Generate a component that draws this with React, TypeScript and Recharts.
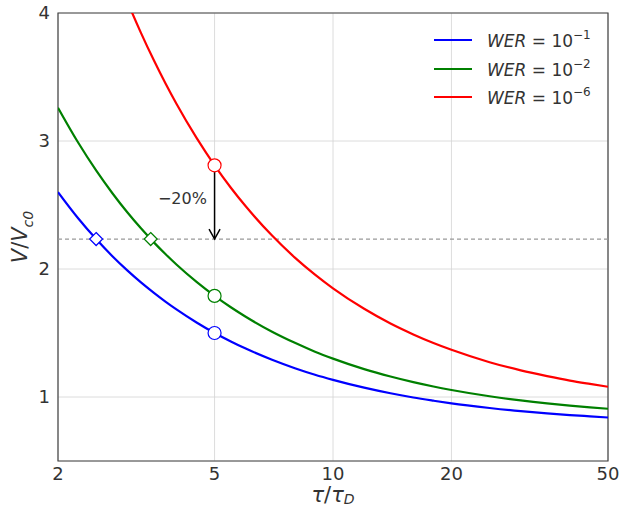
import React from "react";
import {
  ComposedChart,
  Line,
  XAxis,
  YAxis,
  CartesianGrid,
  ReferenceLine,
  ReferenceDot,
  ReferenceArea,
} from "recharts";

// tau / tau_D sample points
const tauValues = [2, 2.25, 2.5, 2.75, 3, 3.25, 3.5, 3.75, 4, 4.5, 5, 5.5, 6, 7, 8, 9, 10, 12, 14, 16, 18, 20, 25, 30, 35, 40, 45, 50];

const werBlue = [2.601, 2.397, 2.234, 2.1, 1.989, 1.895, 1.815, 1.745, 1.684, 1.582, 1.5, 1.434, 1.378, 1.291, 1.225, 1.174, 1.134, 1.073, 1.029, 0.996, 0.971, 0.95, 0.914, 0.889, 0.872, 0.859, 0.849, 0.84];
const werGreen = [3.26, 2.988, 2.77, 2.592, 2.443, 2.318, 2.21, 2.117, 2.035, 1.899, 1.79, 1.701, 1.627, 1.51, 1.423, 1.354, 1.3, 1.218, 1.16, 1.116, 1.082, 1.055, 1.006, 0.973, 0.95, 0.933, 0.919, 0.908];
const werRed = [null, null, null, 4.383, 4.091, 3.845, 3.634, 3.451, 3.291, 3.024, 2.81, 2.635, 2.49, 2.261, 2.089, 1.956, 1.849, 1.689, 1.574, 1.489, 1.422, 1.369, 1.272, 1.208, 1.163, 1.128, 1.102, 1.08];

const xTicks = [2, 5, 10, 20, 50];
const yTicks = [1, 2, 3, 4];

const targetLevel = 2.234;
const circlePoints = [
  { x: 5, y: 1.5, color: "#0000ff" },
  { x: 5, y: 1.79, color: "#008000" },
  { x: 5, y: 2.81, color: "#ff0000" },
];
const diamondPoints = [
  { x: 2.5, y: targetLevel, color: "#0000ff" },
  { x: 3.44, y: targetLevel, color: "#008000" },
];

const legendItems = [
  { exp: "−1", color: "#0000ff" },
  { exp: "−2", color: "#008000" },
  { exp: "−6", color: "#ff0000" },
];

const data = tauValues.map((t, i) => ({
  x: t,
  blue: werBlue[i],
  green: werGreen[i],
  red: werRed[i],
}));

const font = "DejaVu Sans, sans-serif";

const Diamond = (color: string) => (props: any) => {
  const { cx, cy } = props;
  const s = 6.5;
  return (
    <path
      d={`M${cx},${cy - s} L${cx + s},${cy} L${cx},${cy + s} L${cx - s},${cy} Z`}
      fill="#fff"
      stroke={color}
      strokeWidth={1.2}
    />
  );
};

const ArrowHead = (props: any) => {
  const { cx, cy } = props;
  return (
    <path
      d={`M${cx - 5.5},${cy - 10} L${cx},${cy} L${cx + 5.5},${cy - 10}`}
      fill="none"
      stroke="#000"
      strokeWidth={1.5}
    />
  );
};

const PctLabel = (props: any) => {
  const { cx, cy } = props;
  return (
    <text x={cx - 6} y={cy} textAnchor="end" dominantBaseline="middle" fontSize={16} fill="#333" fontFamily={font}>
      −20%
    </text>
  );
};

export default function App() {
  return (
    <div style={{ position: "absolute", left: 0, top: 0, width: 635, height: 507, background: "#fff", fontFamily: font }}>
      <ComposedChart width={635} height={507} data={data} margin={{ top: 13, right: 27, left: 0, bottom: 0 }}>
        <CartesianGrid stroke="#d3d3d3" strokeWidth={0.8} />
        <XAxis
          dataKey="x"
          type="number"
          scale="log"
          domain={[2, 50]}
          ticks={xTicks}
          allowDataOverflow
          height={46}
          tickLine={false}
          axisLine={false}
          tickSize={0}
          tickMargin={6}
          tick={{ fontSize: 18, fill: "#333", fontFamily: font }}
        />
        <YAxis
          type="number"
          domain={[0.5, 4]}
          ticks={yTicks}
          allowDataOverflow
          width={58}
          tickLine={false}
          axisLine={false}
          tickSize={0}
          tickMargin={8}
          tick={{ fontSize: 18, fill: "#333", fontFamily: font }}
        />
        <ReferenceLine y={targetLevel} stroke="#999" strokeDasharray="4 3" strokeWidth={1.3} />
        <Line dataKey="blue" stroke="#0000ff" strokeWidth={2.2} dot={false} type="monotone" isAnimationActive={false} />
        <Line dataKey="green" stroke="#008000" strokeWidth={2.2} dot={false} type="monotone" isAnimationActive={false} />
        <Line dataKey="red" stroke="#ff0000" strokeWidth={2.2} dot={false} type="monotone" isAnimationActive={false} />
        <ReferenceArea x1={2} x2={50} y1={0.5} y2={4} fill="none" stroke="#444" strokeWidth={1.2} ifOverflow="visible" />
        <ReferenceLine
          segment={[
            { x: 5, y: 2.76 },
            { x: 5, y: targetLevel + 0.005 },
          ]}
          stroke="#000"
          strokeWidth={1.5}
        />
        <ReferenceDot x={5} y={targetLevel} r={0} shape={ArrowHead} />
        <ReferenceDot x={4.95} y={2.54} r={0} shape={PctLabel} />
        {circlePoints.map((p) => (
          <ReferenceDot key={p.y} x={p.x} y={p.y} r={6.5} fill="#fff" stroke={p.color} strokeWidth={1.2} />
        ))}
        {diamondPoints.map((p) => (
          <ReferenceDot key={p.x} x={p.x} y={p.y} r={6.5} shape={Diamond(p.color)} />
        ))}
      </ComposedChart>

      {/* legend */}
      <div style={{ position: "absolute", left: 434, top: 26, color: "#333", fontSize: 17 }}>
        {legendItems.map((it) => (
          <div key={it.exp} style={{ display: "flex", alignItems: "center", height: 28.5 }}>
            <div style={{ width: 38, height: 2, background: it.color, marginRight: 15 }} />
            <span style={{ whiteSpace: "nowrap" }}>
              <i>WER</i> = 10<sup style={{ fontSize: 12, position: "relative", top: -1 }}>{it.exp}</sup>
            </span>
          </div>
        ))}
      </div>

      {/* axis labels */}
      <div style={{ position: "absolute", left: 0, width: 666, top: 485, lineHeight: "20px", textAlign: "center", fontSize: 21, color: "#333" }}>
        <i>τ</i>/<i>τ</i>
        <span style={{ fontSize: 14, position: "relative", top: 2 }}>
          <i>D</i>
        </span>
      </div>
      <div
        style={{
          position: "absolute",
          left: 22,
          top: 237,
          transform: "translate(-50%, -50%) rotate(-90deg)",
          fontSize: 21,
          color: "#333",
          whiteSpace: "nowrap",
        }}
      >
        <i>V</i>/<i>V</i>
        <sub style={{ fontSize: 14 }}>
          <i>c0</i>
        </sub>
      </div>
    </div>
  );
}
